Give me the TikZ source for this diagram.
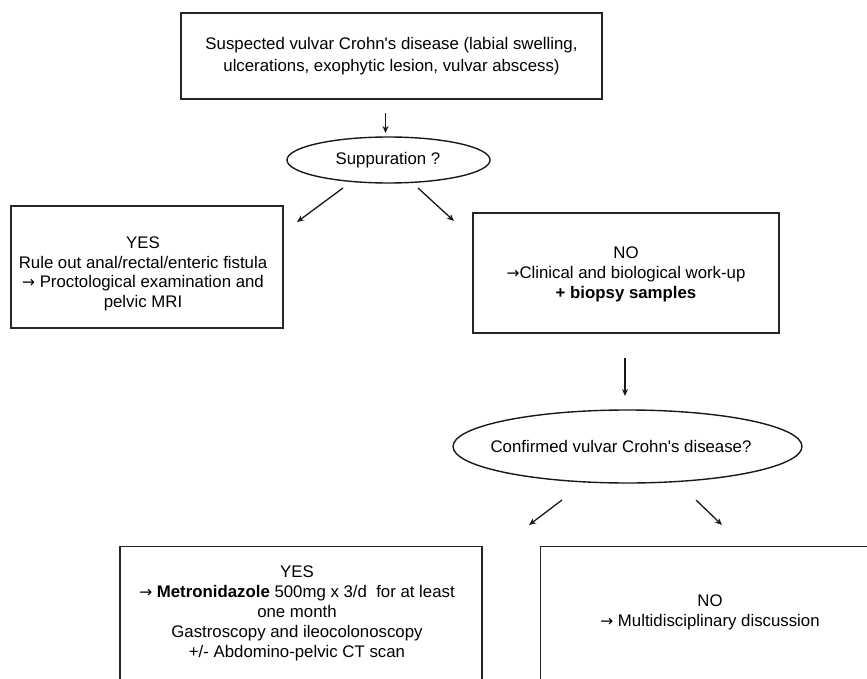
\documentclass[tikz,border=0pt]{standalone}
\usepackage{fontspec}
\setmainfont{Liberation Sans}
\newfontfamily\arrowfont{DejaVu Sans}
\newcommand{\rarr}{{\arrowfont\fontsize{15.5}{20}\selectfont →}}
\usetikzlibrary{arrows.meta,shapes.geometric}
\begin{document}
\begin{tikzpicture}[x=1pt,y=-1pt,
  box/.style={draw=black!85,line width=1.3pt,rectangle,inner sep=0pt},
  oval/.style={draw=black!90,line width=1.4pt,ellipse,inner sep=0pt},
  txt/.style={align=center,inner sep=0pt,font=\fontsize{16.8}{20}\selectfont},
  arr/.style={draw=black!90,line width=1.3pt,-{Stealth[length=7pt,width=6pt]}}]
\useasboundingbox (0,0) rectangle (867,679);
\clip (0,0) rectangle (867,679);
\fill[white] (0,0) rectangle (867,679);

\node[box,minimum width=421pt,minimum height=86pt] (top) at (391.5,56) {};
\node[txt,font=\fontsize{16.8}{22}\selectfont] (toptext) at (391.5,56)
  {Suspected vulvar Crohn\textquotesingle s disease (labial swelling,\\ulcerations, exophytic lesion, vulvar abscess)};

\node[oval,minimum width=203pt,minimum height=46pt] (supp) at (388.5,160) {};
\node[txt] (supptext) at (388,160) {Suppuration ?};

\node[box,minimum width=272pt,minimum height=122pt] (yes1) at (147,267) {};
\node[txt,font=\fontsize{16.8}{19.7}\selectfont] (yes1text) at (143,274)
  {YES\\Rule out anal/rectal/enteric fistula\\\rarr{} Proctological examination and\\pelvic MRI};

\node[box,minimum width=306pt,minimum height=120pt] (no1) at (626,273) {};
\node[txt] (no1text) at (626,274) {NO\\\rarr{}Clinical and biological work-up\\\textbf{+ biopsy samples}};

\node[oval,minimum width=349pt,minimum height=73pt] (conf) at (627.5,446.5) {};
\node[txt] (conftext) at (621,446) {Confirmed vulvar Crohn\textquotesingle s disease?};

\node[box,minimum width=362pt,minimum height=200pt,anchor=north] (yes2) at (301,546) {};
\node[txt] (yes2text) at (297,613)
  {YES\\\rarr{} \textbf{Metronidazole} 500mg x 3/d\ \ for at least\\one month\\Gastroscopy and ileocolonoscopy\\+/- Abdomino-pelvic CT scan};

\node[box,minimum width=340pt,minimum height=200pt,anchor=north west] (no2) at (540,546) {};
\node[txt] (no2text) at (710,612) {NO\\\rarr{} Multidisciplinary discussion};

\coordinate (a1s) at (385.5,113); \coordinate (a1e) at (385.5,133);
\coordinate (a2s) at (343,188);   \coordinate (a2e) at (297,222);
\coordinate (a3s) at (418,188);   \coordinate (a3e) at (454,221);
\coordinate (a4s) at (625,358);   \coordinate (a4e) at (625,396);
\coordinate (a5s) at (562,500);   \coordinate (a5e) at (529,525);
\coordinate (a6s) at (696,500);   \coordinate (a6e) at (722,525);

\draw[arr] (a1s) -- (a1e);
\draw[arr] (a2s) -- (a2e);
\draw[arr] (a3s) -- (a3e);
\draw[arr] (a4s) -- (a4e);
\draw[arr] (a5s) -- (a5e);
\draw[arr] (a6s) -- (a6e);
\end{tikzpicture}
\end{document}
